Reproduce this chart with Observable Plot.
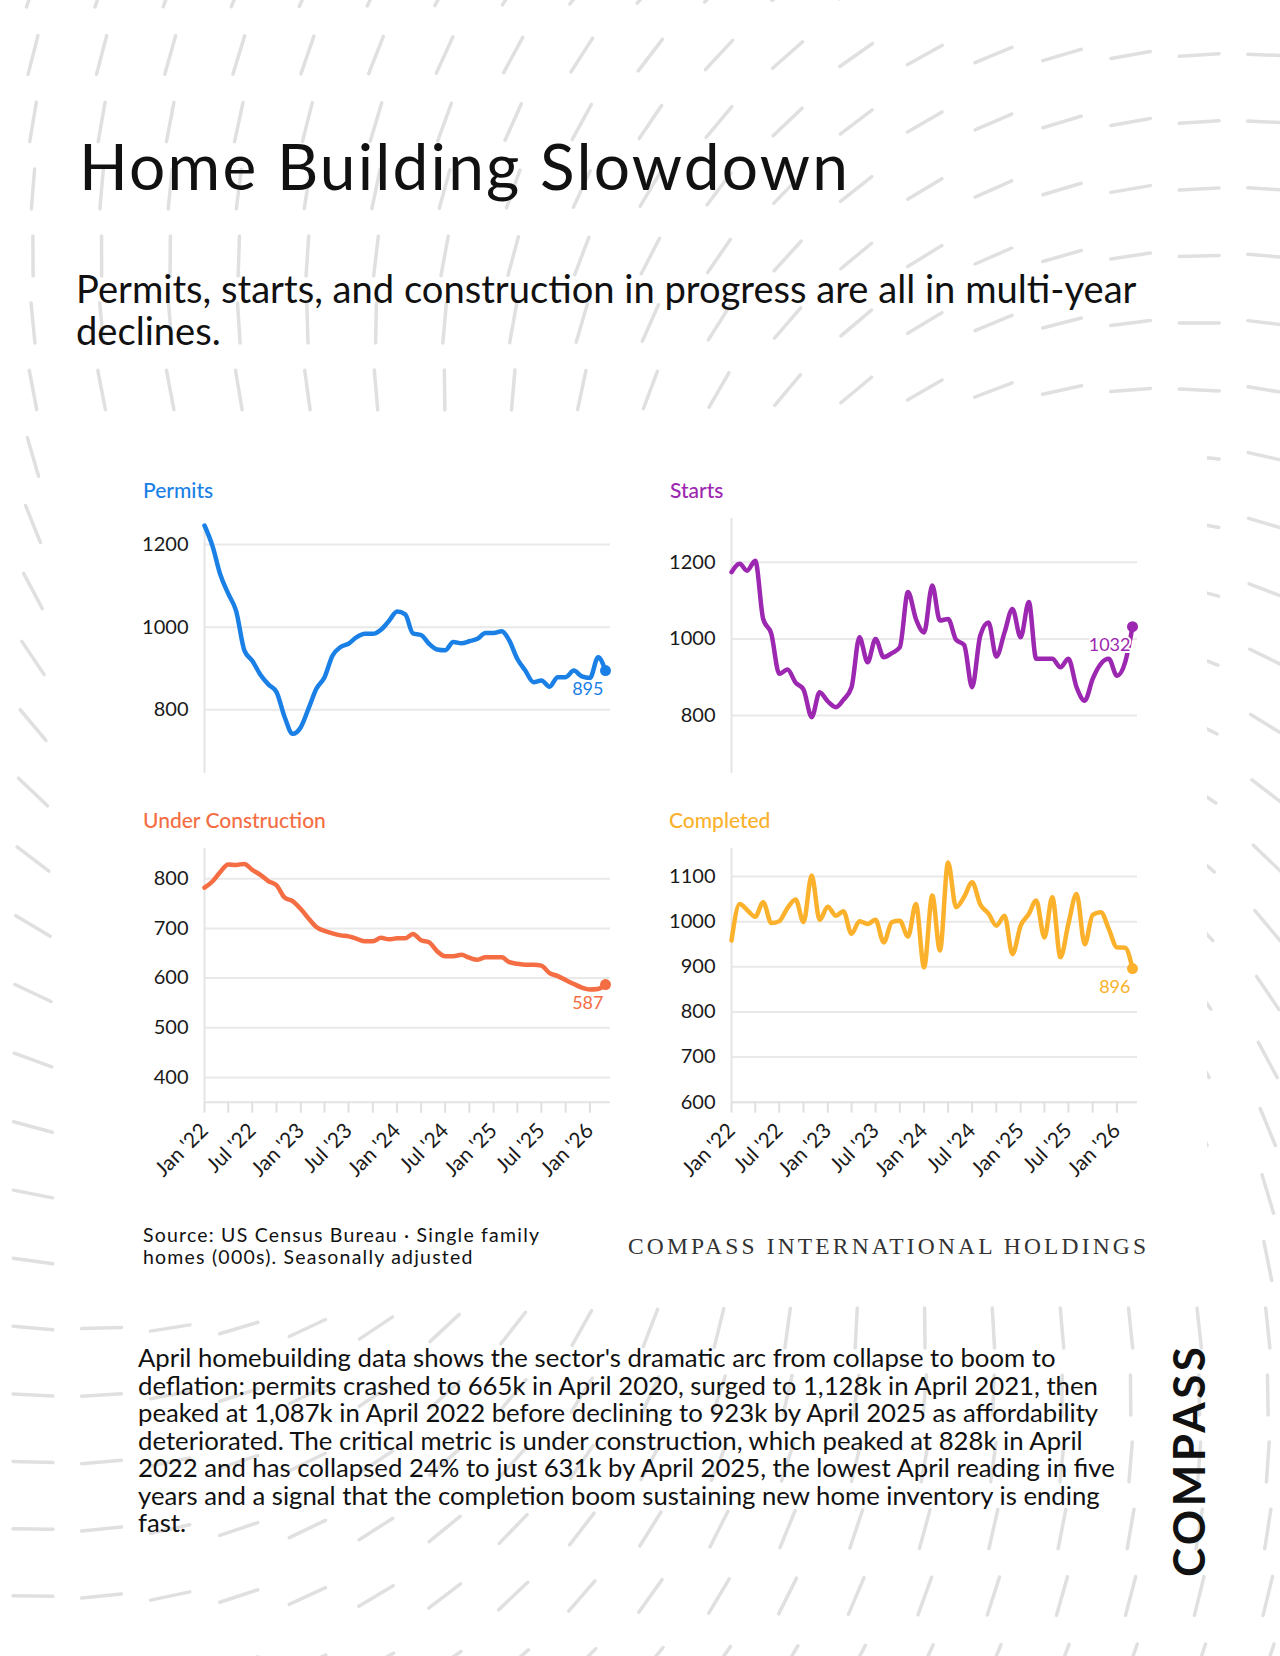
<!DOCTYPE html>
<html><head><meta charset="utf-8">
<script src="https://cdn.jsdelivr.net/npm/d3@7"></script>
<script src="https://cdn.jsdelivr.net/npm/@observablehq/plot@0.6"></script>
<style>
html,body{margin:0;padding:0;background:#fff;}
#page{position:relative;width:1280px;height:1656px;overflow:hidden;background:#fff;font-family:Lato,sans-serif;}
#deco{position:absolute;left:0;top:0;}
.chart{position:absolute;}
.chart svg{overflow:visible;display:block;}
</style></head>
<body><div id="page"><svg id="deco" width="1280" height="1656"></svg></div>
<script>
// ---------- data ----------
const months = [
 "2022-01","2022-02","2022-03","2022-04","2022-05","2022-06","2022-07","2022-08","2022-09","2022-10","2022-11","2022-12",
 "2023-01","2023-02","2023-03","2023-04","2023-05","2023-06","2023-07","2023-08","2023-09","2023-10","2023-11","2023-12",
 "2024-01","2024-02","2024-03","2024-04","2024-05","2024-06","2024-07","2024-08","2024-09","2024-10","2024-11","2024-12",
 "2025-01","2025-02","2025-03","2025-04","2025-05","2025-06","2025-07","2025-08","2025-09","2025-10","2025-11","2025-12",
 "2026-01","2026-02","2026-03"];
const permits = [1246,1195,1129,1081,1039,944,919,885,861,843,782,742,758,806,851,879,931,952,960,976,984,984,994,1015,1038,1031,985,981,960,946,944,964,961,966,972,986,986,990,968,923,895,867,871,856,879,879,895,881,877,927,895];
const starts = [1174,1196,1178,1204,1052,1013,909,920,886,868,796,861,837,822,841,874,1004,939,1000,952,963,978,1122,1052,1017,1139,1048,1052,998,984,874,1009,1043,954,1017,1078,1004,1096,948,948,948,926,948,874,839,896,935,948,904,939,1032];
const underConstruction = [782,795,813,829,828,830,818,808,795,787,762,755,739,719,703,695,690,686,684,679,674,674,681,678,680,680,689,676,672,654,644,644,647,641,637,642,642,642,632,629,627,627,625,610,604,596,588,581,577,578,587];
const completed = [958,1039,1026,1011,1043,997,1001,1030,1049,999,1102,1004,1033,1013,1023,973,1001,995,1004,954,999,1002,967,1039,899,1058,936,1131,1032,1055,1087,1038,1018,991,1013,928,991,1017,1047,965,1054,921,995,1061,950,1015,1021,984,943,942,896];
const xLabelTicks = ["2022-01","2022-07","2023-01","2023-07","2024-01","2024-07","2025-01","2025-07","2026-01"];
const xQuarterTicks = ["2022-01","2022-04","2022-07","2022-10","2023-01","2023-04","2023-07","2023-10","2024-01","2024-04","2024-07","2024-10","2025-01","2025-04","2025-07","2025-10","2026-01"];
const panelTitles = ["Permits","Starts","Under Construction","Completed"];
const colors = ["#1a80e6","#9c27b0","#f46d43","#fbb12b"];
const yTicksPermits = [800,1000,1200];
const yTicksStarts = [800,1000,1200];
const yTicksUC = [400,500,600,700,800];
const yTicksCompleted = [600,700,800,900,1000,1100];

const parse = d3.utcParse("%Y-%m");
const fmt = d => d3.utcFormat("%b")(d) + " '" + d3.utcFormat("%y")(d);

// ---------- decoration (background dash field) ----------
const deco = d3.select("#deco");
const gD = deco.append("g").attr("stroke","#e0e0e0").attr("stroke-width",3.5).attr("stroke-linecap","round");
const cx = 640, cy = 830;
for (let k = -1; k <= 24; k++) {
  const y = 55 + 67*k;
  for (let j = -1; j <= 19; j++) {
    const x = 33 + 68.6*j;
    const vx = x - cx, vy = cy - y;
    const phi = Math.atan2(vy, vx);
    const r = Math.hypot(vx, vy);
    const th = phi*180/Math.PI - 8 - 0.0526*r + 12*Math.sin(phi)**2;
    const t = th*Math.PI/180, h = 20;
    const ex = Math.cos(t)*h, ey = -Math.sin(t)*h;
    gD.append("line").attr("x1",x-ex).attr("y1",y-ey).attr("x2",x+ex).attr("y2",y+ey);
  }
}
deco.append("rect").attr("x",73).attr("y",415).attr("width",1134).attr("height",885).attr("fill","#fff");

// ---------- page texts ----------
const gT = deco.append("g");
function txt(x, y, s, o = {}) {
  const t = gT.append("text").attr("x",x).attr("y",y).text(s)
    .attr("font-family", o.family || "Lato, sans-serif")
    .attr("font-size", o.size).attr("font-weight", o.weight || 400)
    .attr("fill", o.fill || "#111");
  if (o.transform) t.attr("transform", o.transform);
  return t;
}
function fitSize(nodes, ref, target) {
  const w = ref.node().getComputedTextLength();
  const s = +ref.attr("font-size") * target / w;
  nodes.forEach(n => n.attr("font-size", s));
}
function fitSpacing(nodes, ref, target) {
  const w = ref.node().getComputedTextLength();
  const n = ref.text().length;
  const ls = (target - w) / (n - 1);
  nodes.forEach(nd => nd.attr("letter-spacing", ls));
}

const title = txt(79, 190, "Home Building Slowdown", {size: 64, weight: 400, fill: "#111"});
fitSpacing([title], title, 769);

const sub1 = txt(76, 303, "Permits, starts, and construction in progress are all in multi-year", {size: 33});
const sub2 = txt(76, 345, "declines.", {size: 33});
fitSize([sub1, sub2], sub1, 1061);

txt(143, 498, panelTitles[0], {size: 21, weight: 500, fill: colors[0]});
txt(670, 498, panelTitles[1], {size: 21, weight: 500, fill: colors[1]});
txt(143, 828, panelTitles[2], {size: 21, weight: 500, fill: colors[2]});
txt(669, 828, panelTitles[3], {size: 21, weight: 500, fill: colors[3]});

const src1 = txt(143, 1242, "Source: US Census Bureau · Single family", {size: 19.5});
const src2 = txt(143, 1264, "homes (000s). Seasonally adjusted", {size: 19.5});
fitSpacing([src1, src2], src1, 396);

const brand = txt(628, 1254, "COMPASS INTERNATIONAL HOLDINGS", {family: "'Liberation Serif', serif", size: 23.5, fill: "#333"});
fitSpacing([brand], brand, 518);

const para = [
 "April homebuilding data shows the sector's dramatic arc from collapse to boom to",
 "deflation: permits crashed to 665k in April 2020, surged to 1,128k in April 2021, then",
 "peaked at 1,087k in April 2022 before declining to 923k by April 2025 as affordability",
 "deteriorated. The critical metric is under construction, which peaked at 828k in April",
 "2022 and has collapsed 24% to just 631k by April 2025, the lowest April reading in five",
 "years and a signal that the completion boom sustaining new home inventory is ending",
 "fast."
].map((s, i) => txt(138, 1367 + 27.5*i, s, {size: 22}));
fitSize(para, para[5], 962);

const logo = txt(0, 0, "COMPASS", {size: 44, weight: 700, fill: "#111", transform: "translate(1205,1577) rotate(-90)"});
fitSpacing([logo], logo, 230);

// ---------- charts ----------
function panel(cfg) {
  const data = months.map((m, i) => ({date: parse(m), value: cfg.values[i]}));
  const last = data[data.length - 1];
  const marks = [
    Plot.gridY(cfg.yTicks, {stroke: "#e9e9e9", strokeOpacity: 1, strokeWidth: 2}),
    Plot.ruleX([data[0].date], {stroke: "#e4e4e4", strokeWidth: 2}),
    Plot.axisY(cfg.yTicks, {tickSize: 0, tickPadding: 16, fontSize: 20, fill: "#1a1a1a", tickFormat: "d", label: null})
  ];
  if (cfg.xAxis) {
    marks.push(
      Plot.ruleY([cfg.yDomain[0]], {stroke: "#e4e4e4", strokeWidth: 2}),
      Plot.axisX(xQuarterTicks.map(parse), {tickSize: 11, tickFormat: () => "", stroke: "#e0e0e0", strokeWidth: 2, label: null}),
      Plot.axisX(xLabelTicks.map(parse), {tickSize: 0, tickPadding: 25, tickRotate: -45, tickFormat: fmt, fontSize: 21, fill: "#1a1a1a", label: null, dx: 0})
    );
  }
  marks.push(
    Plot.line(data, {x: "date", y: "value", stroke: cfg.color, strokeWidth: 4.5, curve: "monotone-x", strokeLinejoin: "round", strokeLinecap: "round"}),
    Plot.dot([last], {x: "date", y: "value", r: 5.5, fill: cfg.color}),
    Plot.text([last], {x: "date", y: "value", text: d => String(d.value), textAnchor: "end", dx: -2, dy: 19, fill: cfg.color, stroke: "white", strokeWidth: 4, paintOrder: "stroke", fontSize: 18})
  );
  const svg = Plot.plot({
    width: cfg.width, height: cfg.height,
    marginLeft: cfg.ml, marginRight: cfg.mr, marginTop: cfg.mt, marginBottom: cfg.mb,
    style: {fontFamily: "Lato, sans-serif", background: "transparent", overflow: "visible"},
    x: Object.assign({type: "utc", domain: [data[0].date, last.date], insetRight: 5}, cfg.xAxis ? {} : {axis: null}),
    y: {domain: cfg.yDomain},
    marks
  });
  const div = document.createElement("div");
  div.className = "chart";
  div.style.left = cfg.left + "px";
  div.style.top = cfg.top + "px";
  div.appendChild(svg);
  document.getElementById("page").appendChild(div);
}

panel({values: permits, color: colors[0], yTicks: yTicksPermits, yDomain: [646, 1246],
  left: 130, top: 500, width: 490, height: 290, ml: 74, mr: 10, mt: 25, mb: 17, xAxis: false});
panel({values: starts, color: colors[1], yTicks: yTicksStarts, yDomain: [649, 1314],
  left: 650, top: 500, width: 500, height: 290, ml: 81, mr: 13, mt: 18, mb: 17, xAxis: false});
panel({values: underConstruction, color: colors[2], yTicks: yTicksUC, yDomain: [350, 861],
  left: 130, top: 840, width: 490, height: 345, ml: 74, mr: 10, mt: 8, mb: 83.3, xAxis: true});
panel({values: completed, color: colors[3], yTicks: yTicksCompleted, yDomain: [600, 1162],
  left: 650, top: 840, width: 500, height: 345, ml: 81, mr: 13, mt: 8, mb: 83.3, xAxis: true});
</script>
</body></html>
